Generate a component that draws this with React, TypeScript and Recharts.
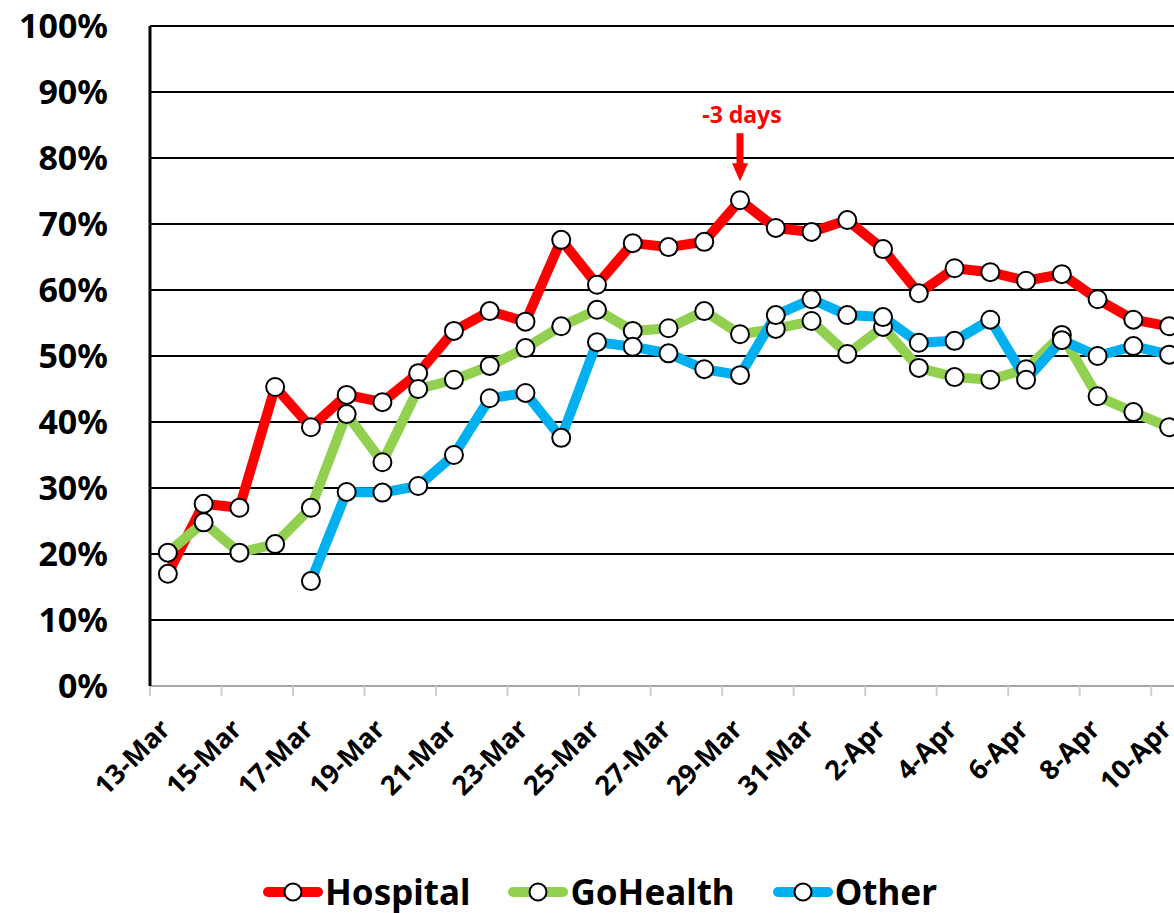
import { LineChart, Line, XAxis, YAxis, CartesianGrid, Legend, ReferenceDot } from 'recharts';

const dates = [
  '13-Mar', '14-Mar', '15-Mar', '16-Mar', '17-Mar', '18-Mar', '19-Mar', '20-Mar', '21-Mar', '22-Mar',
  '23-Mar', '24-Mar', '25-Mar', '26-Mar', '27-Mar', '28-Mar', '29-Mar', '30-Mar', '31-Mar', '1-Apr',
  '2-Apr', '3-Apr', '4-Apr', '5-Apr', '6-Apr', '7-Apr', '8-Apr', '9-Apr', '10-Apr',
];

const hospital = [
  17.0, 27.6, 27.0, 45.3, 39.2, 44.1, 43.0, 47.4, 53.8, 56.8,
  55.2, 67.6, 60.8, 67.1, 66.5, 67.3, 73.6, 69.4, 68.8, 70.6,
  66.2, 59.5, 63.3, 62.7, 61.4, 62.4, 58.6, 55.5, 54.5,
];

const goHealth = [
  20.2, 24.8, 20.2, 21.5, 27.0, 41.2, 33.9, 45.0, 46.4, 48.5,
  51.2, 54.5, 57.0, 53.8, 54.2, 56.8, 53.3, 54.1, 55.3, 50.3,
  54.4, 48.2, 46.8, 46.4, 48.0, 53.2, 43.9, 41.5, 39.2,
];

const other = [
  null, null, null, null, 15.9, 29.4, 29.3, 30.3, 35.0, 43.6,
  44.4, 37.6, 52.1, 51.4, 50.4, 48.0, 47.1, 56.2, 58.6, 56.2,
  55.9, 52.0, 52.3, 55.5, 46.4, 52.4, 50.0, 51.5, 50.2,
];

const yTicks = [0, 10, 20, 30, 40, 50, 60, 70, 80, 90, 100];

const series = [
  { key: 'hospital', name: 'Hospital', color: '#ff0000' },
  { key: 'goHealth', name: 'GoHealth', color: '#92d050' },
  { key: 'other', name: 'Other', color: '#00b0f0' },
];

const peakDate = '29-Mar';
const peakNote = '-3 days';

const data = dates.map((date, i) => ({
  date,
  hospital: hospital[i],
  goHealth: goHealth[i],
  other: other[i],
}));

const FONT = '"Noto Sans", "Open Sans", sans-serif';
const CHART_W = 1200;
const CHART_H = 913;
const LEFT = 150;
const RIGHT_MARGIN = 13;
const BAND = (CHART_W - LEFT - RIGHT_MARGIN) / dates.length;

function DateTick({ x, y, payload }: { x: number; y: number; payload: { value: string } }) {
  const bx = x - BAND / 2;
  const tx = x + 4;
  const ty = y + 45;
  return (
    <g>
      <line x1={bx} y1={y} x2={bx} y2={y + 10} stroke="#cfcfcf" strokeWidth={2} />
      <text
        x={tx}
        y={ty}
        transform={`rotate(-45, ${tx}, ${ty})`}
        textAnchor="end"
        fontSize={27}
        fontWeight={700}
        fontFamily={FONT}
        fill="#000"
      >
        {payload.value}
      </text>
    </g>
  );
}

function PeakArrow({ cx, cy }: { cx?: number; cy?: number }) {
  if (cx == null || cy == null) return null;
  return (
    <g>
      <text x={cx + 2} y={cy - 77} textAnchor="middle" fontSize={23} fontWeight={700} fontFamily={FONT} fill="#ff0000">
        {peakNote}
      </text>
      <rect x={cx - 3.5} y={cy - 67} width={7} height={32} fill="#ff0000" />
      <polygon points={`${cx - 8},${cy - 37} ${cx + 8},${cy - 37} ${cx},${cy - 19}`} fill="#ff0000" />
    </g>
  );
}

function LegendContent() {
  return (
    <div style={{ display: 'flex', alignItems: 'center', fontFamily: FONT }}>
      {series.map((s) => (
        <div key={s.key} style={{ display: 'flex', alignItems: 'center', marginRight: 38 }}>
          <svg width={60} height={24}>
            <line x1={5} y1={12} x2={55} y2={12} stroke={s.color} strokeWidth={10} strokeLinecap="round" />
            <circle cx={30} cy={12} r={8.5} fill="#fff" stroke="#000" strokeWidth={2} />
          </svg>
          <span style={{ fontSize: 35, fontWeight: 700, color: '#000', lineHeight: '32px', marginLeft: 2 }}>
            {s.name}
          </span>
        </div>
      ))}
    </div>
  );
}

export default function App() {
  const peakValue = hospital[dates.indexOf(peakDate)];
  return (
    <div style={{ position: 'absolute', left: 0, top: 0, width: 1174, height: 913, overflow: 'hidden', background: '#fff' }}>
      <LineChart width={CHART_W} height={CHART_H} data={data} margin={{ top: 26, right: RIGHT_MARGIN, bottom: 0, left: 0 }}>
        <CartesianGrid vertical={false} stroke="#000" strokeWidth={2} />
        <XAxis
          dataKey="date"
          scale="band"
          interval={1}
          height={227}
          tickLine={false}
          tickSize={0}
          tickMargin={0}
          axisLine={{ stroke: '#a6a6a6', strokeWidth: 2 }}
          tick={(props: any) => <DateTick {...props} />}
        />
        <YAxis
          domain={[0, 100]}
          ticks={yTicks}
          width={LEFT}
          tickLine={false}
          tickSize={0}
          tickMargin={42}
          axisLine={{ stroke: '#000', strokeWidth: 3 }}
          tickFormatter={(v: number) => `${v}%`}
          tick={{ fontSize: 34, fontWeight: 700, fill: '#000', fontFamily: FONT }}
        />
        <Legend
          layout="horizontal"
          verticalAlign="middle"
          align="center"
          wrapperStyle={{ top: 876, left: 263, width: 800 }}
          content={() => <LegendContent />}
        />
        {series.map((s) => (
          <Line
            key={s.key}
            dataKey={s.key}
            name={s.name}
            stroke={s.color}
            strokeWidth={10}
            strokeLinejoin="round"
            dot={{ r: 9, fill: '#fff', stroke: '#000', strokeWidth: 2 }}
            activeDot={false}
            isAnimationActive={false}
          />
        ))}
        <ReferenceDot x={peakDate} y={peakValue} shape={(p: any) => <PeakArrow cx={p.cx} cy={p.cy} />} />
      </LineChart>
    </div>
  );
}
